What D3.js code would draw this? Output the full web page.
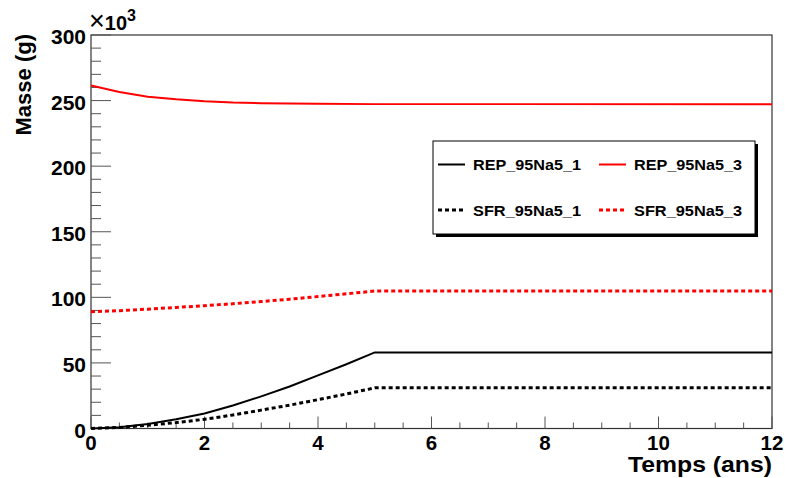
<!DOCTYPE html>
<html><head><meta charset="utf-8">
<script src="https://cdn.jsdelivr.net/npm/d3@7"></script>
<style>body{margin:0;background:#fff}svg{display:block}text{font-family:"Liberation Sans",Arial,sans-serif;font-weight:bold}</style>
</head><body><svg id="c" width="786" height="478"></svg>
<script>
// time (years)
const tREP1 = [0,0.5,1,1.5,2,2.5,3,3.5,4,4.5,5,12];
const vREP1 = [0,1,3.5,7,11.5,17.5,24.5,32,40.5,49,58,58];
const tSFR1 = [0,0.5,1,1.5,2,2.5,3,3.5,4,4.5,5,12];
const vSFR1 = [0,0.8,2.5,4.5,7,10.3,14,17.8,22,26.3,31,31];
const tREP3 = [0,0.5,1,1.5,2,2.5,3,4,5,12];
const vREP3 = [261.5,256.5,253,251,249.5,248.5,248,247.5,247.3,247.3];
const tSFR3 = [0,0.5,1,1.5,2,2.5,3,3.5,4,4.5,5,12];
const vSFR3 = [89,89.8,91,92.3,93.6,95.1,96.8,98.6,100.6,102.7,104.8,104.8];
const seriesNames = ["REP_95Na5_1","REP_95Na5_3","SFR_95Na5_1","SFR_95Na5_3"];
const xTicks = [0,2,4,6,8,10,12];
const yTicks = [0,50,100,150,200,250,300];

const svg = d3.select("#c");
const L=91,R=772,T=35,B=428.5;
const x = d3.scaleLinear().domain([0,12]).range([L,R]);
const y = d3.scaleLinear().domain([0,300]).range([B,T]);

// frame
svg.append("rect").attr("x",L).attr("y",T).attr("width",R-L).attr("height",B-T)
  .attr("fill","none").attr("stroke","#333").attr("stroke-width",1.2);

// y axis ticks
const yMinor = d3.range(0,301,10);
svg.append("g").selectAll("line").data(yMinor).join("line")
  .attr("x1",L).attr("x2",d=>L+(d%50===0?20:10))
  .attr("y1",d=>y(d)).attr("y2",d=>y(d)).attr("stroke","#555").attr("stroke-width",1);
svg.append("g").selectAll("text").data(yTicks).join("text")
  .attr("x",86).attr("y",d=>y(d)+9).attr("text-anchor","end")
  .attr("font-size",21).attr("fill","#000").text(d=>d);

// x axis ticks
const xMinor = d3.range(0,12.01,0.5);
svg.append("g").selectAll("line").data(xMinor).join("line")
  .attr("x1",d=>x(d)).attr("x2",d=>x(d))
  .attr("y1",B).attr("y2",d=>B-(d%2===0?12:6)).attr("stroke","#555").attr("stroke-width",1);
svg.append("g").selectAll("text").data(xTicks).join("text")
  .attr("x",d=>x(d)).attr("y",449.5).attr("text-anchor","middle")
  .attr("font-size",20.5).attr("fill","#000").text(d=>d);

// axis titles
svg.append("text").attr("x",R).attr("y",472).attr("text-anchor","end")
  .attr("font-size",21.5).attr("textLength",144).attr("lengthAdjust","spacingAndGlyphs").text("Temps (ans)");
svg.append("text").attr("transform","translate(31,34) rotate(-90)").attr("text-anchor","end")
  .attr("font-size",22).text("Masse (g)");
const ex = svg.append("text").attr("x",89).attr("y",30).attr("font-size",20);
ex.append("tspan").attr("font-size",27).attr("font-weight","normal").text("\u00d7");
ex.append("tspan").text("10");
ex.append("tspan").attr("dy",-9).attr("font-size",16).text("3");

// curves
const line = d3.line().x(d=>x(d[0])).y(d=>y(d[1]));
const zip = (a,b)=>a.map((t,i)=>[t,b[i]]);
const styles = [
  {data:zip(tREP1,vREP1),color:"#000",dash:null,w:2},
  {data:zip(tREP3,vREP3),color:"#ff0000",dash:null,w:2},
  {data:zip(tSFR1,vSFR1),color:"#000",dash:"4,3",w:3},
  {data:zip(tSFR3,vSFR3),color:"#ff0000",dash:"4,3",w:3}
];
const g = svg.append("g");
styles.forEach(s=>{
  g.append("path").attr("d",line(s.data)).attr("fill","none")
   .attr("stroke",s.color).attr("stroke-width",s.w).attr("stroke-dasharray",s.dash);
});

// legend
const lx=433,ly=141,lw=322,lh=93;
svg.append("rect").attr("x",lx+3).attr("y",ly+3).attr("width",lw).attr("height",lh).attr("fill","#000");
svg.append("rect").attr("x",lx).attr("y",ly).attr("width",lw).attr("height",lh).attr("fill","#fff")
  .attr("stroke","#000").attr("stroke-width",1);
const pos = [[438,164.5],[599,164.5],[438,210],[599,210]];
seriesNames.forEach((n,i)=>{
  const s = styles[i], p = pos[i];
  svg.append("line").attr("x1",p[0]).attr("x2",p[0]+27).attr("y1",p[1]).attr("y2",p[1])
    .attr("stroke",s.color).attr("stroke-width",s.w).attr("stroke-dasharray",s.dash);
  svg.append("text").attr("x",p[0]+35).attr("y",p[1]+5.5).attr("font-size",15)
    .attr("textLength",108).attr("lengthAdjust","spacingAndGlyphs").text(n);
});
</script></body></html>
